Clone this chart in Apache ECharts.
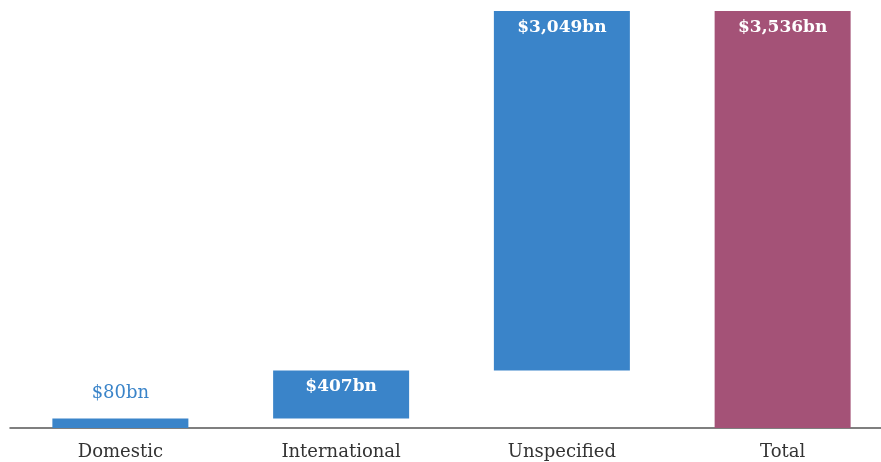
<!DOCTYPE html>
<html>
<head>
<meta charset="utf-8">
<script src="https://cdn.jsdelivr.net/npm/echarts@6/dist/echarts.min.js"></script>
<style>
  html, body { margin: 0; padding: 0; background: #fff; }
  #chart { width: 881px; height: 462px; }
</style>
</head>
<body>
<div id="chart"></div>
<script>
// categories and values ($bn)
var categories = ['Domestic', 'International', 'Unspecified', 'Total'];
var amounts = [80, 407, 3049, 3536];
var labels = ['$80bn', '$407bn', '$3,049bn', '$3,536bn'];

var blue = '#3a84c9';
var purple = '#a45277';

// invisible base for the waterfall steps
var base = [];
var run = 0;
for (var i = 0; i < amounts.length; i++) {
  if (i === amounts.length - 1) {
    base.push(0);
  } else {
    base.push(run);
    run += amounts[i];
  }
}

var barData = amounts.map(function (v, i) {
  var last = i === amounts.length - 1;
  var item = {
    value: v,
    itemStyle: { color: last ? purple : blue },
    label: {
      show: true,
      formatter: labels[i],
      position: 'insideTop',
      distance: 8,
      color: '#fff',
      fontWeight: 'bold'
    }
  };
  // small bar gets its label above
  if (i === 0) {
    item.label.position = 'top';
    item.label.distance = 16;
    item.label.color = blue;
    item.label.fontWeight = 'normal';
    item.label.fontSize = 18;
  }
  return item;
});

var chart = echarts.init(document.getElementById('chart'));
chart.setOption({
  animation: false,
  grid: { left: 10, top: 11, width: 883, bottom: 34, outerBoundsMode: 'none' },
  xAxis: {
    type: 'category',
    data: categories,
    axisTick: { show: false },
    axisLine: { lineStyle: { color: '#555', width: 1.5 } },
    axisLabel: {
      color: '#333',
      fontFamily: 'DejaVu Serif',
      fontSize: 18,
      margin: 15
    }
  },
  yAxis: {
    type: 'value',
    min: 0,
    max: 3536,
    show: false,
    splitLine: { show: false }
  },
  series: [
    {
      type: 'bar',
      stack: 'w',
      data: base,
      itemStyle: { color: 'transparent' },
      barWidth: 136
    },
    {
      type: 'bar',
      stack: 'w',
      data: barData,
      barWidth: 136,
      label: {
        fontFamily: 'DejaVu Serif',
        fontSize: 17
      }
    }
  ]
});
</script>
</body>
</html>
